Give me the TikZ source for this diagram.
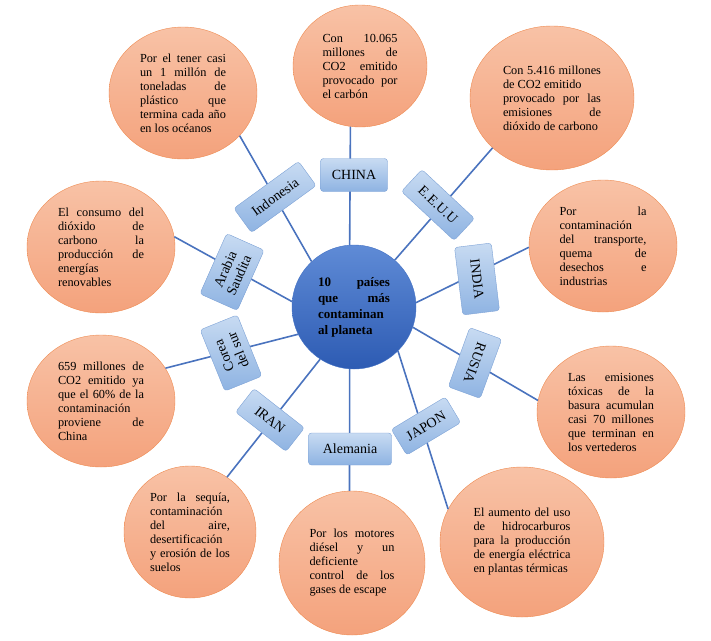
\documentclass[tikz,border=0pt]{standalone}
\usepackage{fontspec}
\setmainfont{Liberation Serif}
\usepackage{xcolor}
\usetikzlibrary{shapes.geometric, positioning}
\definecolor{peachtop}{HTML}{F8C2A6}
\definecolor{peachbot}{HTML}{F4A27C}
\definecolor{peachline}{HTML}{EE8A50}
\definecolor{boxtop}{HTML}{C8DBF2}
\definecolor{boxbot}{HTML}{8EB3E2}
\definecolor{boxline}{HTML}{7DA2D6}
\definecolor{coretop}{HTML}{5F8BD6}
\definecolor{corebot}{HTML}{2D5BB3}
\definecolor{coreline}{HTML}{4472C4}
\definecolor{linkblue}{HTML}{4A73BE}
\hyphenpenalty=10000
\tolerance=10000
\hbadness=10000

\begin{document}
\begin{tikzpicture}[x=1pt, y=-1pt,
  nota/.style={ellipse, draw=peachline, top color=peachtop, bottom color=peachbot,
    inner sep=0pt, align=justify, font=\fontsize{12.3}{14}\selectfont},
  pais/.style={rectangle, rounded corners=3pt, draw=boxline, top color=boxtop, bottom color=boxbot,
    minimum height=30, inner sep=2pt, align=center, font=\fontsize{14}{15}\selectfont},
  enlace/.style={draw=linkblue, line width=1.6pt}
]
  \useasboundingbox (0,0) rectangle (711,640);

  % ellipses with the reasons
  \node[nota, minimum width=148, minimum height=132, text width=86] (plastico) at (183,93)
    {Por el tener casi\linebreak un 1 millón de\linebreak toneladas de\linebreak plástico que\linebreak termina cada año\linebreak en los océanos};
  \node[nota, minimum width=134, minimum height=122, text width=75] (carbon) at (360,66)
    {Con 10.065\linebreak millones de\linebreak CO2 emitido\linebreak provocado por\linebreak el carbón};
  \node[nota, minimum width=164, minimum height=144, text width=98] (emisiones) at (552,98)
    {Con 5.416 millones\linebreak de CO2 emitido\hfill\break provocado por las\linebreak emisiones de\linebreak dióxido de carbono};
  \node[nota, minimum width=148, minimum height=132, text width=87] (transporte) at (603,246)
    {Por la\linebreak contaminación\linebreak del transporte,\linebreak quema de\linebreak desechos e\linebreak industrias};
  \node[nota, minimum width=148, minimum height=132, text width=86] (basura) at (611,412)
    {Las emisiones\linebreak tóxicas de la\linebreak basura acumulan\linebreak casi 70 millones\linebreak que terminan en\linebreak los vertederos};
  \node[nota, minimum width=164, minimum height=150, text width=97] (hidrocarburos) at (522,542)
    {El aumento del uso\linebreak de hidrocarburos\linebreak para la producción\linebreak de energía eléctrica\linebreak en plantas térmicas};
  \node[nota, minimum width=146, minimum height=144, text width=85] (motores) at (352,563)
    {Por los motores\linebreak diésel y un\linebreak deficiente\linebreak control de los\linebreak gases de escape};
  \node[nota, minimum width=132, minimum height=132, text width=80] (sequia) at (190,532)
    {Por la sequía,\linebreak contaminación\linebreak del aire,\linebreak desertificación\linebreak y erosión de los\linebreak suelos};
  \node[nota, minimum width=148, minimum height=132, text width=86] (porcentaje) at (101,401)
    {659 millones de\linebreak CO2 emitido ya\linebreak que el 60\% de la\linebreak contaminación\linebreak proviene de\linebreak China};
  \node[nota, minimum width=148, minimum height=132, text width=86] (consumo) at (101,247)
    {El consumo del\linebreak dióxido de\linebreak carbono la\linebreak producción de\linebreak energías\linebreak renovables};

  % centre
  \node[circle, draw=coreline, top color=coretop, bottom color=corebot, minimum size=124, inner sep=0pt,
    text width=72, align=justify, font=\fontsize{13}{16}\selectfont\bfseries] (centro) at (354,307)
    {10 países\linebreak que más\linebreak contaminan\linebreak al planeta};

  % links
  \draw[enlace] (centro.94)   -- (carbon.-99);
  \draw[enlace] (centro.133)  -- (plastico.-37);
  \draw[enlace] (centro.49)   -- (emisiones.-140);
  \draw[enlace] (centro.4)    -- (transporte.181);
  \draw[enlace] (centro.-19)  -- (basura.171);
  \draw[enlace] (centro.-45)  -- (hidrocarburos.156);
  \draw[enlace] (centro.-94)  -- (motores.92);
  \draw[enlace] (centro.-123) -- (sequia.56);
  \draw[enlace] (centro.-154) -- (porcentaje.27);
  \draw[enlace] (centro.175)  -- (consumo.8);

  % countries
  \node[pais, minimum width=67, minimum height=33] (china) at (354,175) {CHINA};
  \node[pais, minimum width=80, rotate=36] (indonesia) at (275,197) {Indonesia};
  \node[pais, minimum width=72, rotate=-43] (eeuu) at (438,205) {E.E.U.U};
  \node[pais, minimum width=68, minimum height=37, rotate=-83] (india) at (477,279) {INDIA};
  \node[pais, minimum width=63, minimum height=34, rotate=-110] (rusia) at (475,363) {RUSIA};
  \node[pais, minimum width=63, rotate=31] (japon) at (426,426) {JAPON};
  \node[pais, minimum width=83, minimum height=32] (alemania) at (350,449) {Alemania};
  \node[pais, minimum width=64, rotate=-38] (iran) at (270,420) {IRAN};
  \node[pais, minimum width=66, minimum height=40, rotate=112] (corea) at (231,353) {Corea\\del sur};
  \node[pais, minimum width=66, minimum height=41, rotate=66] (arabia) at (232,272) {Arabia\\Saudita};
\end{tikzpicture}
\end{document}
